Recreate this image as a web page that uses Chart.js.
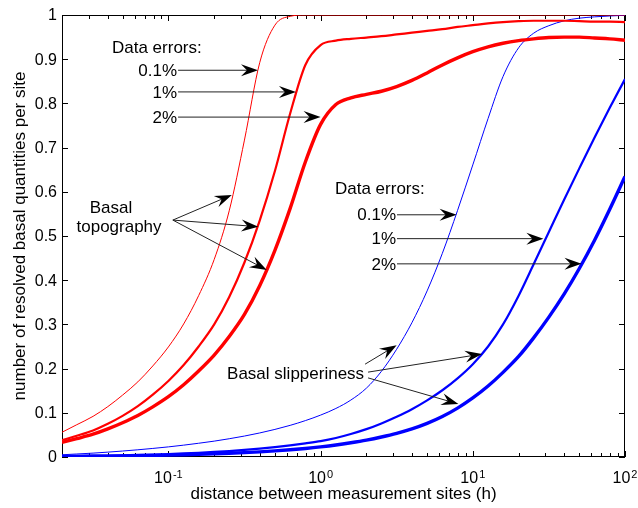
<!DOCTYPE html>
<html>
<head>
<meta charset="utf-8">
<script src="https://cdn.jsdelivr.net/npm/chart.js@4/dist/chart.umd.min.js"></script>
<style>
  body { margin: 0; background: #fff; }
  canvas { display: block; }
</style>
</head>
<body>
<canvas id="chart" width="638" height="508"></canvas>
<script>
// distance between measurement sites (h), 0.1 decade steps
const distances = [0.02, 0.025, 0.032, 0.04, 0.05, 0.063, 0.079, 0.1, 0.126, 0.158, 0.2, 0.251, 0.316, 0.398, 0.501,
  0.631, 0.794, 1, 1.26, 1.58, 2, 2.51, 3.16, 3.98, 5.01, 6.31, 7.94, 10, 12.6, 15.8, 20, 25.1, 31.6, 39.8, 50.1,
  63.1, 79.4, 100];

// basal topography, data errors 0.1% / 1% / 2%
const topo01 = [0.056, 0.073, 0.092, 0.114, 0.140, 0.170, 0.206, 0.249, 0.301, 0.365, 0.447, 0.557, 0.717, 0.892, 0.977,
  0.997, 1, 1, 1, 1, 1, 1, 1, 1, 1, 1, 1, 1, 1, 1, 1, 1, 1, 1, 1, 1, 1, 1];
const topo1 = [0.038, 0.048, 0.060, 0.075, 0.093, 0.115, 0.141, 0.172, 0.208, 0.250, 0.300, 0.362, 0.440, 0.535, 0.647,
  0.777, 0.887, 0.932, 0.942, 0.946, 0.949, 0.952, 0.956, 0.960, 0.964, 0.968, 0.973, 0.977, 0.981, 0.984, 0.986,
  0.987, 0.987, 0.987, 0.986, 0.985, 0.985, 0.984];
const topo2 = [0.033, 0.0415, 0.0515, 0.0635, 0.0775, 0.094, 0.1135, 0.1365, 0.1635, 0.1945, 0.2305, 0.2725, 0.3225,
  0.3875, 0.4675, 0.5625, 0.6675, 0.7525, 0.7975, 0.8125, 0.8205, 0.8275, 0.838, 0.852, 0.869, 0.887, 0.903, 0.917,
  0.928, 0.936, 0.942, 0.946, 0.949, 0.950, 0.950, 0.948, 0.946, 0.943];

// basal slipperiness, data errors 0.1% / 1% / 2%
const slip01 = [0.005, 0.0068, 0.0088, 0.011, 0.0135, 0.0163, 0.0194, 0.0229, 0.0268, 0.0311, 0.0359, 0.0413, 0.0474,
  0.0544, 0.0624, 0.0716, 0.0823, 0.0948, 0.1098, 0.1288, 0.1558, 0.1938, 0.2438, 0.3038, 0.3758, 0.4608, 0.5578,
  0.6608, 0.7658, 0.8608, 0.9258, 0.9588, 0.9758, 0.9868, 0.9928, 0.9958, 0.9978, 0.9993];
const slip1 = [0.002, 0.0024, 0.0029, 0.0034, 0.004, 0.0048, 0.0057, 0.0068, 0.0081, 0.0096, 0.0114, 0.0135, 0.016,
  0.019, 0.0225, 0.0265, 0.031, 0.036, 0.043, 0.052, 0.063, 0.076, 0.091, 0.108, 0.128, 0.151, 0.178,
  0.210, 0.250, 0.300, 0.365, 0.436, 0.509, 0.582, 0.653, 0.723, 0.790, 0.855];
const slip2 = [0.001, 0.0013, 0.00165, 0.00205, 0.0025, 0.003, 0.0036, 0.0043, 0.0051, 0.006, 0.0071, 0.0084, 0.0099,
  0.0117, 0.0138, 0.0163, 0.0193, 0.0229, 0.0272, 0.0323, 0.0383, 0.0453, 0.0535, 0.0635, 0.076, 0.0915, 0.1105,
  0.1335, 0.1605, 0.1915, 0.2275, 0.2695, 0.3165, 0.3685, 0.4265, 0.4905, 0.5605, 0.6345];

// axis ticks
const xMajor = [0.1, 1, 10, 100];
const xMajorExp = ['-1', '0', '1', '2'];
const xMinor = [0.02, 0.03, 0.04, 0.05, 0.06, 0.07, 0.08, 0.09, 0.2, 0.3, 0.4, 0.5, 0.6, 0.7, 0.8, 0.9,
  2, 3, 4, 5, 6, 7, 8, 9, 20, 30, 40, 50, 60, 70, 80, 90];
const yTicks = [0, 0.1, 0.2, 0.3, 0.4, 0.5, 0.6, 0.7, 0.8, 0.9, 1];
const yTickLabels = ['0', '0.1', '0.2', '0.3', '0.4', '0.5', '0.6', '0.7', '0.8', '0.9', '1'];

// annotations, in data coordinates
const errorLabels = ['0.1%', '1%', '2%'];
const topoErrY = [0.875, 0.826, 0.769];
const topoErrTipX = [0.388, 0.689, 1.0];
const slipErrY = [0.548, 0.494, 0.437];
const slipErrTipX = [7.83, 29.1, 51.8];
const topoArrowTips = [[0.261, 0.593], [0.39, 0.521], [0.443, 0.423]];
const slipArrowStarts = [[1.96, 0.210], [2.05, 0.192], [2.05, 0.179]];
const slipArrowTips = [[3.16, 0.253], [11.5, 0.233], [8.04, 0.12]];

const FONT = '"Liberation Sans", Arial, Helvetica, sans-serif';

function pts(xs, ys) {
  return xs.map((x, i) => ({ x: x, y: ys[i] }));
}

function line(label, ys, color, width) {
  return {
    label: label,
    data: pts(distances, ys),
    borderColor: color,
    borderWidth: width,
    pointRadius: 0,
    fill: false,
    cubicInterpolationMode: 'monotone'
  };
}

function arrow(ctx, x0, y0, x1, y1) {
  const ang = Math.atan2(y1 - y0, x1 - x0);
  const L = 17, W = 12;
  ctx.save();
  ctx.strokeStyle = '#222';
  ctx.lineWidth = 1;
  ctx.beginPath();
  ctx.moveTo(x0, y0);
  ctx.lineTo(x1 - Math.cos(ang) * L * 0.6, y1 - Math.sin(ang) * L * 0.6);
  ctx.stroke();
  ctx.translate(x1, y1);
  ctx.rotate(ang);
  ctx.fillStyle = '#000';
  ctx.beginPath();
  ctx.moveTo(0, 0);
  ctx.lineTo(-L, W / 2);
  ctx.lineTo(-L * 0.65, 0);
  ctx.lineTo(-L, -W / 2);
  ctx.closePath();
  ctx.fill();
  ctx.restore();
}

const axesBox = {
  id: 'axesBox',
  beforeDatasetsDraw(chart) {
    const ctx = chart.ctx;
    const a = chart.chartArea;
    const xs = chart.scales.x, ys = chart.scales.y;
    ctx.save();
    ctx.strokeStyle = '#000';
    ctx.lineWidth = 1;
    ctx.strokeRect(Math.round(a.left) + 0.5, Math.round(a.top) + 0.5,
      Math.round(a.right - a.left) - 1, Math.round(a.bottom - a.top) - 1);
    ctx.beginPath();
    xMajor.concat(xMinor).forEach(v => {
      const len = xMajor.includes(v) ? 6 : 4;
      const p = Math.round(xs.getPixelForValue(v)) + 0.5;
      ctx.moveTo(p, a.bottom); ctx.lineTo(p, a.bottom - len);
      ctx.moveTo(p, a.top); ctx.lineTo(p, a.top + len);
    });
    yTicks.forEach(v => {
      const p = Math.round(ys.getPixelForValue(v)) + 0.5;
      ctx.moveTo(a.left, p); ctx.lineTo(a.left + 6, p);
      ctx.moveTo(a.right, p); ctx.lineTo(a.right - 6, p);
    });
    ctx.stroke();

    // tick labels
    ctx.fillStyle = '#000';
    ctx.font = '16px ' + FONT;
    ctx.textAlign = 'right';
    ctx.textBaseline = 'middle';
    yTicks.forEach((v, i) => {
      ctx.fillText(yTickLabels[i], a.left - 5, ys.getPixelForValue(v) + 1);
    });
    ctx.textBaseline = 'alphabetic';
    ctx.textAlign = 'left';
    xMajor.forEach((v, i) => {
      ctx.font = '16px ' + FONT;
      const wb = ctx.measureText('10').width;
      ctx.font = '11px ' + FONT;
      const we = ctx.measureText(xMajorExp[i]).width;
      const cx = xs.getPixelForValue(v);
      const x0 = cx - (wb + we + 1) / 2;
      ctx.font = '16px ' + FONT;
      ctx.fillText('10', x0, a.bottom + 26);
      ctx.font = '11px ' + FONT;
      ctx.fillText(xMajorExp[i], x0 + wb + 1, a.bottom + 21);
    });

    // axis titles
    ctx.font = '17px ' + FONT;
    ctx.textAlign = 'center';
    ctx.fillText('distance between measurement sites (h)', (a.left + a.right) / 2, a.bottom + 42);
    ctx.save();
    ctx.translate(25, (a.top + a.bottom) / 2);
    ctx.rotate(-Math.PI / 2);
    ctx.fillText('number of resolved basal quantities per site', 0, 0);
    ctx.restore();
    ctx.restore();
  },
  afterDatasetsDraw(chart) {
    const ctx = chart.ctx;
    const xs = chart.scales.x, ys = chart.scales.y;
    const X = v => xs.getPixelForValue(v);
    const Y = v => ys.getPixelForValue(v);
    ctx.save();
    ctx.fillStyle = '#000';
    ctx.font = '17px ' + FONT;
    ctx.textBaseline = 'middle';

    // red group
    ctx.textAlign = 'left';
    ctx.fillText('Data errors:', X(0.0426), Y(0.925));
    ctx.textAlign = 'right';
    errorLabels.forEach((t, i) => {
      ctx.fillText(t, X(0.114), Y(topoErrY[i]) + 1);
      arrow(ctx, X(0.114) + 1, Y(topoErrY[i]), X(topoErrTipX[i]), Y(topoErrY[i]));
    });

    // blue group
    ctx.textAlign = 'left';
    ctx.fillText('Data errors:', X(1.243), Y(0.606));
    ctx.textAlign = 'right';
    errorLabels.forEach((t, i) => {
      ctx.fillText(t, X(3.13), Y(slipErrY[i]) + 1);
      arrow(ctx, X(3.13) + 1, Y(slipErrY[i]), X(slipErrTipX[i]), Y(slipErrY[i]));
    });

    // basal topography
    ctx.textAlign = 'center';
    ctx.fillText('Basal', X(0.042), Y(0.563));
    ctx.fillText('topography', X(0.0474), Y(0.520));
    topoArrowTips.forEach(t => arrow(ctx, X(0.107), Y(0.536), X(t[0]), Y(t[1])));

    // basal slipperiness
    ctx.textAlign = 'left';
    ctx.fillText('Basal slipperiness', X(0.243), Y(0.188));
    slipArrowTips.forEach((t, i) => {
      arrow(ctx, X(slipArrowStarts[i][0]), Y(slipArrowStarts[i][1]), X(t[0]), Y(t[1]));
    });
    ctx.restore();
  }
};

new Chart(document.getElementById('chart').getContext('2d'), {
  type: 'line',
  data: {
    datasets: [
      line('topography 0.1%', topo01, '#ff0000', 1),
      line('topography 1%', topo1, '#ff0000', 2.2),
      line('topography 2%', topo2, '#ff0000', 3.4),
      line('slipperiness 0.1%', slip01, '#0000ff', 1),
      line('slipperiness 1%', slip1, '#0000ff', 2.2),
      line('slipperiness 2%', slip2, '#0000ff', 3.4)
    ]
  },
  options: {
    responsive: false,
    animation: false,
    layout: { padding: { left: 62, top: 15, right: 13, bottom: 51 } },
    scales: {
      x: { type: 'logarithmic', min: 0.02, max: 100, display: false },
      y: { type: 'linear', min: 0, max: 1, display: false }
    },
    plugins: {
      legend: { display: false },
      tooltip: { enabled: false }
    }
  },
  plugins: [axesBox]
});
</script>
</body>
</html>
